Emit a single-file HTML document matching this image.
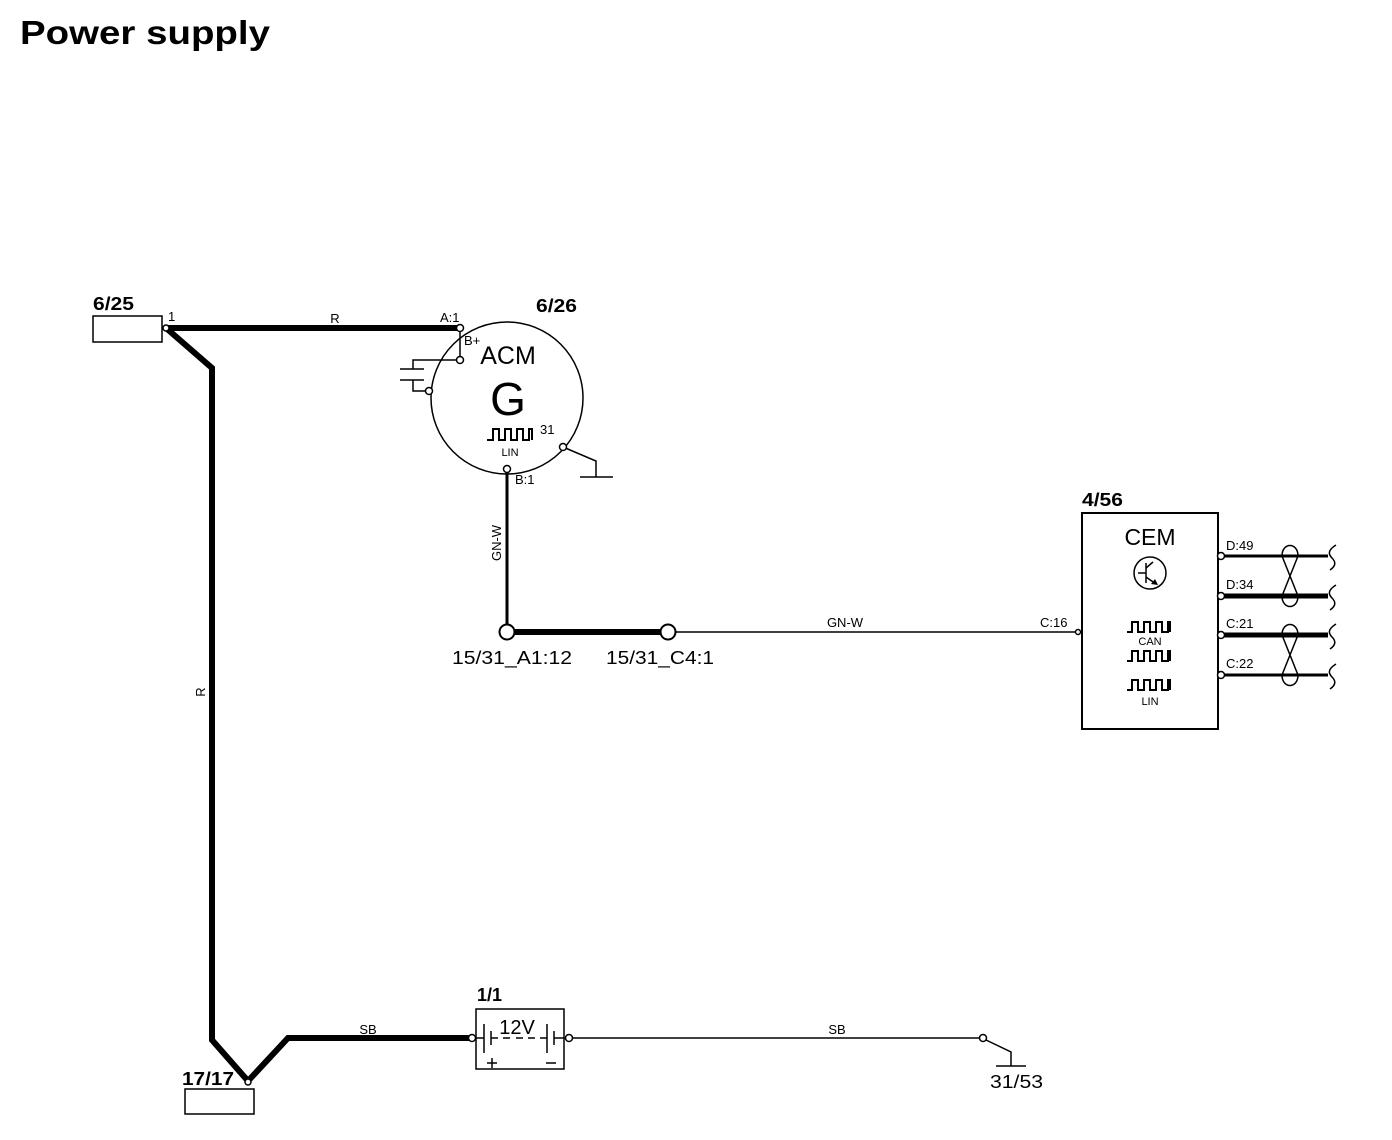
<!DOCTYPE html>
<html><head><style>
html,body{margin:0;padding:0;background:#fff;}
svg{display:block;font-family:"Liberation Sans",Arial,sans-serif;}
</style></head><body>
<svg width="1392" height="1140" viewBox="0 0 1392 1140" xmlns="http://www.w3.org/2000/svg">
<text x="20" y="44" font-size="33" font-weight="bold" textLength="250" lengthAdjust="spacingAndGlyphs">Power supply</text>

<!-- 6/25 -->
<text x="93" y="310" font-size="18" font-weight="bold" textLength="41" lengthAdjust="spacingAndGlyphs">6/25</text>
<rect x="93" y="316" width="69" height="26" fill="none" stroke="#000" stroke-width="1.5"/>
<text x="168" y="321" font-size="13">1</text>

<g fill="none" stroke="#000" stroke-width="6" stroke-linejoin="miter">
<polyline points="166,328 460,328"/>
<polyline points="166,328 212,368 212,1040 248,1081 288,1038 472,1038"/>
<line x1="507" y1="632" x2="668" y2="632"/>
</g>
<text x="335" y="323" font-size="13" text-anchor="middle">R</text>
<text x="0" y="0" font-size="13" text-anchor="middle" transform="translate(205,692) rotate(-90)">R</text>
<text x="368" y="1034" font-size="13" text-anchor="middle">SB</text>
<circle cx="166" cy="328" r="3" fill="#fff" stroke="#000" stroke-width="1.5"/>

<!-- 17/17 -->
<text x="182" y="1085" font-size="18" font-weight="bold" textLength="52" lengthAdjust="spacingAndGlyphs">17/17</text>
<rect x="185" y="1089" width="69" height="25" fill="none" stroke="#000" stroke-width="1.5"/>
<circle cx="248" cy="1082" r="3" fill="#fff" stroke="#000" stroke-width="1.5"/>

<!-- ACM -->
<text x="536" y="312" font-size="18" font-weight="bold" textLength="41" lengthAdjust="spacingAndGlyphs">6/26</text>
<circle cx="507" cy="398" r="76" fill="none" stroke="#000" stroke-width="1.5"/>
<text x="440" y="322" font-size="13">A:1</text>
<text x="464" y="345" font-size="13">B+</text>
<text x="508" y="364" font-size="25" text-anchor="middle">ACM</text>
<text x="508" y="415" font-size="46" text-anchor="middle">G</text>
<polyline points="487,440 493,440 493,429 499,429 499,440 505,440 505,429 511,429 511,440 517,440 517,429 523,429 523,440 529,440 529,429 532,429 532,440" fill="none" stroke="#000" stroke-width="2"/>
<text x="510" y="456" font-size="11" text-anchor="middle">LIN</text>
<text x="540" y="434" font-size="13">31</text>
<g fill="none" stroke="#000" stroke-width="1.5">
<line x1="460" y1="328" x2="460" y2="360"/>
<polyline points="459,360 413,360 413,369"/>
<line x1="400" y1="369" x2="424" y2="369"/>
<line x1="400" y1="380" x2="424" y2="380"/>
<polyline points="413,380 413,391 428,391"/>
<polyline points="563,447 596,461 596,477"/>
<line x1="580" y1="477" x2="613" y2="477"/>
</g>
<circle cx="460" cy="328" r="3.5" fill="#fff" stroke="#000" stroke-width="1.5"/>
<circle cx="460" cy="360" r="3.5" fill="#fff" stroke="#000" stroke-width="1.5"/>
<circle cx="429" cy="391" r="3.5" fill="#fff" stroke="#000" stroke-width="1.5"/>
<circle cx="563" cy="447" r="3.5" fill="#fff" stroke="#000" stroke-width="1.5"/>
<line x1="507" y1="472" x2="507" y2="625" stroke="#000" stroke-width="3"/>
<circle cx="507" cy="469" r="3.5" fill="#fff" stroke="#000" stroke-width="1.5"/>
<text x="515" y="484" font-size="13">B:1</text>
<text x="0" y="0" font-size="13" text-anchor="middle" transform="translate(501,543) rotate(-90)">GN-W</text>

<!-- splices -->
<line x1="676" y1="632" x2="1078" y2="632" stroke="#000" stroke-width="1.5"/>
<circle cx="507" cy="632" r="7.5" fill="#fff" stroke="#000" stroke-width="2"/>
<circle cx="668" cy="632" r="7.5" fill="#fff" stroke="#000" stroke-width="2"/>
<text x="452" y="664" font-size="18" textLength="120" lengthAdjust="spacingAndGlyphs">15/31_A1:12</text>
<text x="606" y="664" font-size="18" textLength="108" lengthAdjust="spacingAndGlyphs">15/31_C4:1</text>
<text x="845" y="627" font-size="13" text-anchor="middle">GN-W</text>
<text x="1040" y="627" font-size="13">C:16</text>

<!-- CEM -->
<text x="1082" y="506" font-size="18" font-weight="bold" textLength="41" lengthAdjust="spacingAndGlyphs">4/56</text>
<rect x="1082" y="513" width="136" height="216" fill="none" stroke="#000" stroke-width="2"/>
<circle cx="1078" cy="632" r="2.5" fill="#fff" stroke="#000" stroke-width="1.5"/>
<text x="1150" y="545" font-size="23" text-anchor="middle">CEM</text>
<circle cx="1150" cy="573" r="16" fill="none" stroke="#000" stroke-width="1.5"/>
<g fill="none" stroke="#000" stroke-width="1.5">
<line x1="1146" y1="563" x2="1146" y2="583"/>
<line x1="1138" y1="573" x2="1146" y2="573"/>
<line x1="1146" y1="568" x2="1153" y2="562"/>
<line x1="1146" y1="577" x2="1156" y2="584"/>
</g>
<polygon points="1158,585 1151,584 1155,579" fill="#000"/>
<g fill="none" stroke="#000" stroke-width="2">
<polyline points="1127,632 1132,632 1132,622 1138,622 1138,632 1144,632 1144,622 1150,622 1150,632 1156,632 1156,622 1162,622 1162,632 1168,632 1168,622 1170,622 1170,632"/>
<polyline points="1127,661 1132,661 1132,651 1138,651 1138,661 1144,661 1144,651 1150,651 1150,661 1156,661 1156,651 1162,651 1162,661 1168,661 1168,651 1170,651 1170,661"/>
<polyline points="1127,690 1132,690 1132,680 1138,680 1138,690 1144,690 1144,680 1150,680 1150,690 1156,690 1156,680 1162,680 1162,690 1168,690 1168,680 1170,680 1170,690"/>
</g>
<text x="1150" y="645" font-size="11" text-anchor="middle">CAN</text>
<text x="1150" y="705" font-size="11" text-anchor="middle">LIN</text>

<g stroke="#000" fill="none">
<line x1="1222" y1="556" x2="1328" y2="556" stroke-width="3"/>
<line x1="1222" y1="596" x2="1328" y2="596" stroke-width="5"/>
<line x1="1222" y1="635" x2="1328" y2="635" stroke-width="5"/>
<line x1="1222" y1="675" x2="1328" y2="675" stroke-width="3"/>
<g stroke-width="1.5">
<path d="M1282,556 C1282,542 1298,542 1298,556 L1282,596 C1282,610 1298,610 1298,596 Z"/>
<path d="M1282,635 C1282,621 1298,621 1298,635 L1282,675 C1282,689 1298,689 1298,675 Z"/>
</g>
<g stroke-width="1.5">
<path d="M1336,545 C1328,550 1328,554 1332,558 C1336,562 1336,566 1330,570"/>
<path d="M1336,585 C1328,590 1328,594 1332,598 C1336,602 1336,606 1330,610"/>
<path d="M1336,624 C1328,629 1328,633 1332,637 C1336,641 1336,645 1330,649"/>
<path d="M1336,664 C1328,669 1328,673 1332,677 C1336,681 1336,685 1330,689"/>
</g>
</g>
<circle cx="1221" cy="556" r="3.5" fill="#fff" stroke="#000" stroke-width="1.5"/>
<circle cx="1221" cy="596" r="3.5" fill="#fff" stroke="#000" stroke-width="1.5"/>
<circle cx="1221" cy="635" r="3.5" fill="#fff" stroke="#000" stroke-width="1.5"/>
<circle cx="1221" cy="675" r="3.5" fill="#fff" stroke="#000" stroke-width="1.5"/>
<text x="1226" y="550" font-size="13">D:49</text>
<text x="1226" y="589" font-size="13">D:34</text>
<text x="1226" y="628" font-size="13">C:21</text>
<text x="1226" y="668" font-size="13">C:22</text>

<!-- Battery -->
<text x="477" y="1001" font-size="18" font-weight="bold">1/1</text>
<rect x="476" y="1009" width="88" height="60" fill="none" stroke="#000" stroke-width="1.5"/>
<g stroke="#000" stroke-width="1.5" fill="none">
<line x1="476" y1="1038" x2="484" y2="1038"/>
<line x1="484" y1="1024" x2="484" y2="1053"/>
<line x1="491" y1="1031" x2="491" y2="1045"/>
<line x1="491" y1="1038" x2="498" y2="1038"/>
<line x1="503" y1="1038" x2="510" y2="1038"/>
<line x1="516" y1="1038" x2="523" y2="1038"/>
<line x1="528" y1="1038" x2="535" y2="1038"/>
<line x1="540" y1="1038" x2="547" y2="1038"/>
<line x1="547" y1="1024" x2="547" y2="1053"/>
<line x1="554" y1="1031" x2="554" y2="1045"/>
<line x1="554" y1="1038" x2="565" y2="1038"/>
<line x1="573" y1="1038" x2="980" y2="1038"/>
<polyline points="986,1040 1011,1052 1011,1066"/>
<line x1="996" y1="1066" x2="1026" y2="1066"/>
<line x1="487" y1="1063" x2="497" y2="1063"/>
<line x1="492" y1="1058" x2="492" y2="1068"/>
<line x1="546" y1="1063" x2="556" y2="1063"/>
</g>
<text x="517" y="1034" font-size="20" text-anchor="middle">12V</text>
<circle cx="472" cy="1038" r="3.5" fill="#fff" stroke="#000" stroke-width="1.5"/>
<circle cx="569" cy="1038" r="3.5" fill="#fff" stroke="#000" stroke-width="1.5"/>
<circle cx="983" cy="1038" r="3.5" fill="#fff" stroke="#000" stroke-width="1.5"/>
<text x="837" y="1034" font-size="13" text-anchor="middle">SB</text>
<text x="990" y="1088" font-size="18" textLength="53" lengthAdjust="spacingAndGlyphs">31/53</text>
</svg>
</body></html>
